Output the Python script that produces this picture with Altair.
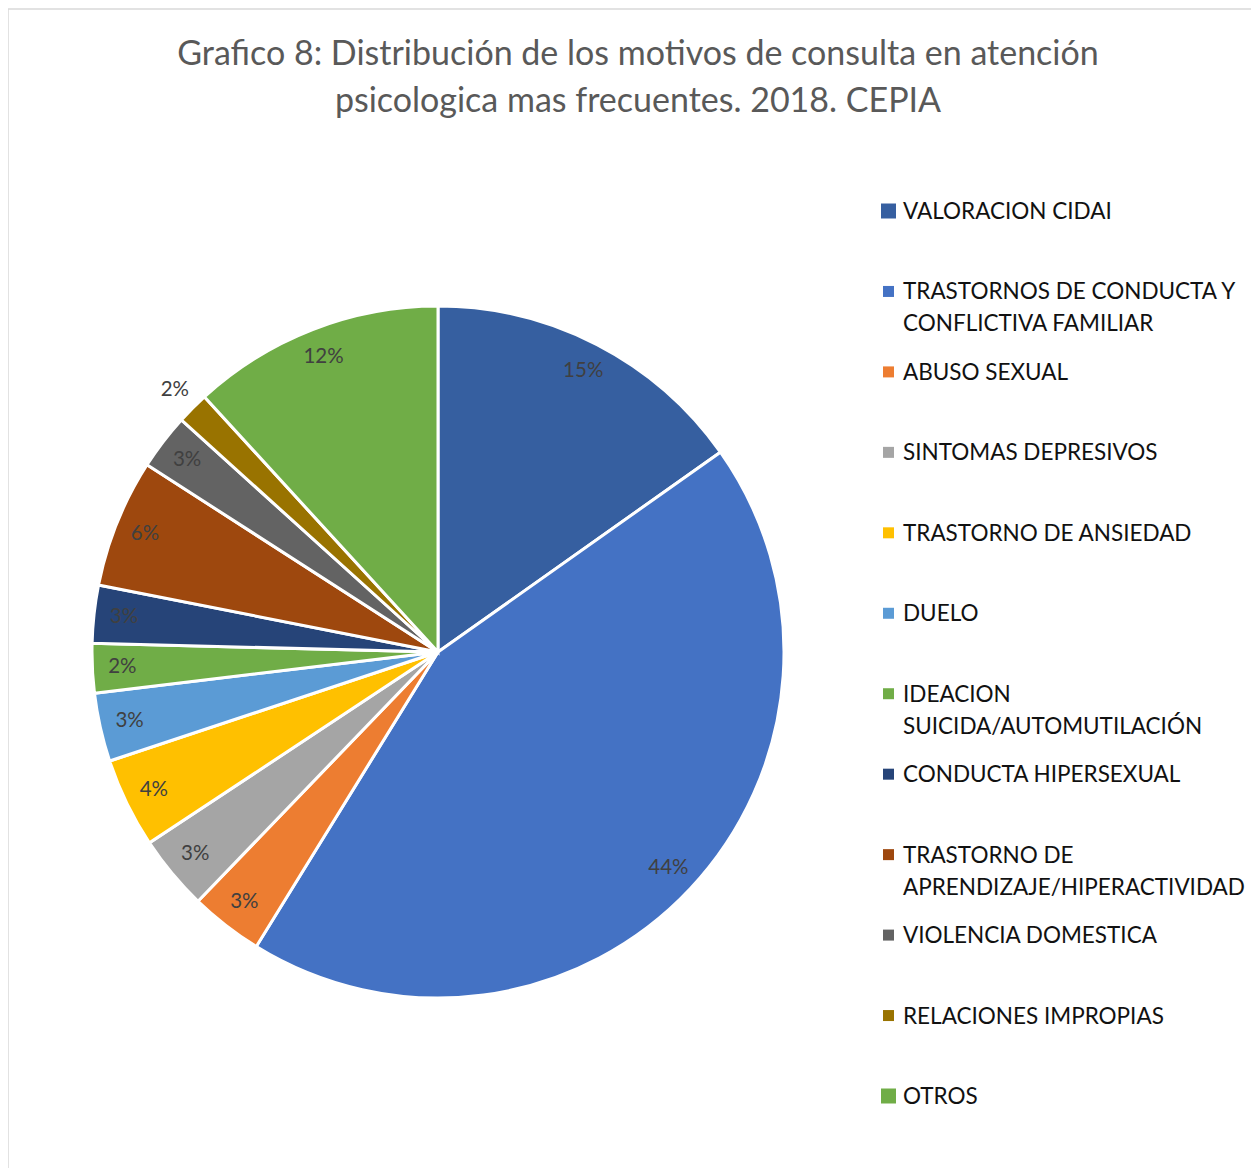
import altair as alt
import pandas as pd

categories = [
    "VALORACION CIDAI",
    "TRASTORNOS DE CONDUCTA Y\nCONFLICTIVA FAMILIAR",
    "ABUSO SEXUAL",
    "SINTOMAS DEPRESIVOS",
    "TRASTORNO DE ANSIEDAD",
    "DUELO",
    "IDEACION\nSUICIDA/AUTOMUTILACIÓN",
    "CONDUCTA HIPERSEXUAL",
    "TRASTORNO DE\nAPRENDIZAJE/HIPERACTIVIDAD",
    "VIOLENCIA DOMESTICA",
    "RELACIONES IMPROPIAS",
    "OTROS",
]
values = [15.2, 43.6, 3.4, 3.5, 4.2, 3.2, 2.3, 2.7, 6.0, 2.6, 1.5, 11.8]
labels = ["15%", "44%", "3%", "3%", "4%", "3%", "2%", "3%", "6%", "3%", "2%", "12%"]
colors = ["#365FA0", "#4472C4", "#ED7D31", "#A5A5A5", "#FFC000", "#5B9BD5",
          "#70AD47", "#264478", "#9E480E", "#636363", "#997300", "#70AD47"]
outside = ["RELACIONES IMPROPIAS"]

title_text = ("Grafico 8: Distribución de los motivos de consulta en atención\n"
              "psicologica mas frecuentes. 2018. CEPIA")

df = pd.DataFrame({"idx": list(range(len(categories))), "cat": categories,
                   "value": values, "label": labels})
total = sum(values)

FONT = "Lato"
CX, CY, R = 430, 514, 346

color = alt.Color("cat:N", scale=alt.Scale(domain=categories, range=colors), legend=None)
theta_scale = alt.Scale(domain=[0, total], range=[0, 6.283185307179586])

base = alt.Chart(df)
one = alt.Chart(pd.DataFrame({"t": [title_text]}))

border = one.mark_rect(
    fill=None, stroke="#d9d9d9", strokeWidth=1.5
).encode(x=alt.value(0), x2=alt.value(1500), y=alt.value(-129), y2=alt.value(1500))

title = one.mark_text(font=FONT, fontSize=34, color="#595959", align="center",
                      baseline="alphabetic", lineBreak="\n", lineHeight=47).encode(
    x=alt.value(630), y=alt.value(-73), text="t:N")

pie = base.mark_arc(stroke="white", strokeWidth=3).encode(
    theta=alt.Theta("value:Q", stack=True, scale=theta_scale),
    order=alt.Order("idx:Q"),
    color=color,
    x=alt.value(CX), y=alt.value(CY), radius=alt.value(R),
)

lab = base.transform_window(
    cum="sum(value)", sort=[alt.SortField("idx")], frame=[None, 0]
).transform_calculate(mid="datum.cum - datum.value/2")

inner = lab.transform_filter(
    ~alt.FieldOneOfPredicate(field="cat", oneOf=outside)
).mark_text(font=FONT, fontSize=20.5, color="#404040", radius=316).encode(
    theta=alt.Theta("mid:Q", stack=None, scale=theta_scale),
    text="label:N", x=alt.value(CX), y=alt.value(CY),
)
outer = lab.transform_filter(
    alt.FieldOneOfPredicate(field="cat", oneOf=outside)
).mark_text(font=FONT, fontSize=20.5, color="#404040", radius=371).encode(
    theta=alt.Theta("mid:Q", stack=None, scale=theta_scale),
    text="label:N", x=alt.value(CX), y=alt.value(CY),
)

yleg = alt.Y("idx:Q", scale=alt.Scale(domain=[0, 11], range=[73, 958]), axis=None)
leg_sq = base.mark_square(opacity=1, filled=True).encode(
    x=alt.value(880.5), y=yleg, color=color,
    size=alt.condition(alt.FieldOneOfPredicate(field="cat", oneOf=[categories[0], categories[-1]]),
                       alt.value(225), alt.value(121)),
)
leg_tx = base.mark_text(font=FONT, fontSize=22.5, color="#111111", align="left",
                        baseline="alphabetic", dy=8, lineBreak="\n", lineHeight=32).encode(
    x=alt.value(895), y=yleg, text="cat:N",
)

chart = alt.layer(border, title, pie, inner, outer, leg_sq, leg_tx).properties(
    width=1243, height=1030,
    autosize=alt.AutoSizeParams(type="none"),
    padding={"left": 0, "top": 130, "right": 0, "bottom": 0},
).configure_view(stroke=None)

chart.save("out.html", embed_options={"renderer": "svg", "actions": False})
